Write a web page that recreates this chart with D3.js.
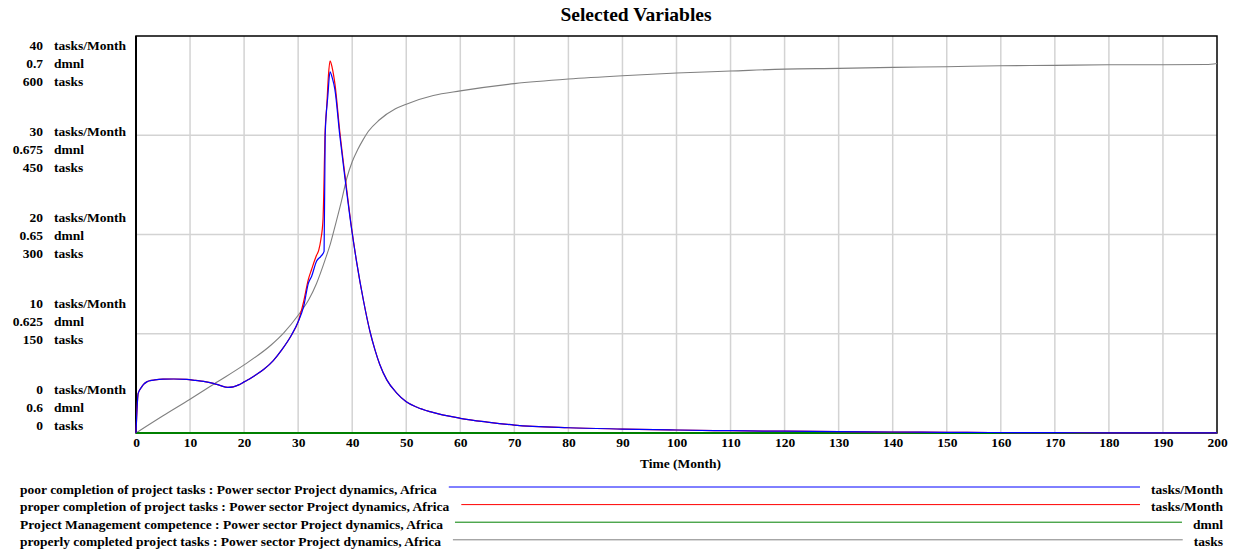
<!DOCTYPE html>
<html>
<head>
<meta charset="utf-8">
<script src="https://cdn.jsdelivr.net/npm/d3@7"></script>
<style>
  body { margin: 0; background: #fff; }
  svg text { font-family: "Liberation Serif", "Times New Roman", serif; font-weight: bold; fill: #000; }
</style>
</head>
<body>
<script>
// time axis ticks
var xTicks = d3.range(0, 201, 10);

// poor completion of project tasks (tasks/Month)
var tPoor = [0, 0.12, 0.4, 1, 1.4, 2, 2.6, 3.5, 5, 7, 9.4, 11, 12.5, 14.3, 15.5, 17, 18, 19, 20, 21, 22, 23.6, 25.4, 27, 28.8, 30, 31, 31.9, 32.5, 33.4, 34.2, 34.8, 35.0, 35.5, 35.9, 36.3, 36.8, 37.7, 38.7, 39.9, 40.8, 42.1, 43.3, 44.2, 45.1, 46.4, 48.2, 50, 52, 54.4, 60, 65, 70, 80, 90, 100, 110, 120, 130, 140, 150, 158, 170, 180, 190, 200];
var poor = [0, 1.6, 4.0, 4.6, 4.9, 5.15, 5.27, 5.35, 5.42, 5.44, 5.4, 5.3, 5.2, 5.0, 4.8, 4.6, 4.65, 4.85, 5.15, 5.45, 5.8, 6.4, 7.3, 8.4, 9.9, 11.2, 12.7, 15.1, 15.8, 17.3, 17.8, 18.3, 30, 34, 36.4, 35.8, 34.6, 30, 25.5, 20.5, 17.3, 13.3, 10.2, 8.4, 6.9, 5.35, 4.05, 3.15, 2.6, 2.15, 1.48, 1.1, 0.8, 0.53, 0.4, 0.3, 0.23, 0.18, 0.14, 0.1, 0.07, 0.05, 0.03, 0.02, 0.015, 0.01];

// proper completion of project tasks (tasks/Month)
var tProper = [0, 0.12, 0.4, 1, 1.4, 2, 2.6, 3.5, 5, 7, 9.4, 11, 12.5, 14.3, 15.5, 17, 18, 19, 20, 21, 22, 23.6, 25.4, 27, 28.8, 30, 31, 31.9, 32.5, 33.4, 33.8, 34.2, 34.6, 35.0, 35.3, 35.6, 35.9, 36.3, 36.8, 37.7, 38.7, 39.9, 40.8, 42.1, 43.3, 44.2, 45.1, 46.4, 48.2, 50, 52, 54.4, 60, 65, 70, 80, 90, 100, 110, 120, 130, 140, 150, 158, 170, 180, 190, 200];
var proper = [0, 1.6, 4.0, 4.6, 4.9, 5.15, 5.27, 5.35, 5.42, 5.44, 5.4, 5.3, 5.2, 5.0, 4.8, 4.6, 4.65, 4.85, 5.15, 5.45, 5.8, 6.4, 7.3, 8.4, 9.9, 11.2, 13.2, 15.5, 16.5, 17.9, 18.4, 19.5, 21.5, 30.5, 33.0, 36, 37.5, 36.8, 35.2, 30.4, 25.8, 20.6, 17.3, 13.3, 10.2, 8.4, 6.9, 5.35, 4.05, 3.15, 2.6, 2.15, 1.48, 1.1, 0.8, 0.53, 0.4, 0.3, 0.23, 0.18, 0.14, 0.1, 0.07, 0.05, 0.03, 0.02, 0.015, 0.01];

// Project Management competence (dmnl)
var tCompetence = [0, 200];
var competence = [0.6, 0.6];

// properly completed project tasks (tasks)
var tCompleted = [0, 5, 10, 15, 20, 25, 27.3, 30, 32, 33.4, 35, 36, 37, 38, 39, 40, 41, 42, 43, 45, 48, 50, 55, 60, 70, 80, 90, 100, 110, 120, 130, 140, 150, 160, 170, 180, 190, 198, 200];
var completed = [0, 26, 51, 77, 103, 133, 151, 178, 202, 226, 262, 287, 318, 350, 385, 410, 428, 443, 456, 473, 490, 497, 510, 517, 528, 535, 540, 544, 547, 550, 551, 552.6, 553.6, 555, 555.6, 556.5, 556.6, 557, 558.5];

// stacked y tick labels, one column per unit
var rateTicks = [0, 10, 20, 30, 40];
var dmnlTicks = ["0.6", "0.625", "0.65", "0.675", "0.7"];
var taskTicks = [0, 150, 300, 450, 600];

var legendNames = [
  "poor completion of project tasks : Power sector Project dynamics, Africa",
  "proper completion of project tasks : Power sector Project dynamics, Africa",
  "Project Management competence : Power sector Project dynamics, Africa",
  "properly completed project tasks : Power sector Project dynamics, Africa"
];
var legendUnits = ["tasks/Month", "tasks/Month", "dmnl", "tasks"];
var colors = ["#0000ff", "#ff0000", "#008000", "#808080"];

var svgWidth = 1242, svgHeight = 554;
var margin = {top: 36, left: 136, right: 25, bottom: 121};
var width = svgWidth - margin.left - margin.right;
var height = svgHeight - margin.top - margin.bottom;
var fontSize = "13.5px";

var svg = d3.select("body").append("svg")
  .attr("width", svgWidth)
  .attr("height", svgHeight);

// title
svg.append("text")
  .attr("x", 636).attr("y", 21)
  .attr("text-anchor", "middle")
  .style("font-size", "19.5px")
  .text("Selected Variables");

var chartGroup = svg.append("g")
  .attr("transform", `translate(${margin.left}, ${margin.top})`);

var x = d3.scaleLinear().domain([0, 200]).range([0, width]);
var yRate = d3.scaleLinear().domain([0, 40]).range([height, 0]);
var yDmnl = d3.scaleLinear().domain([0.6, 0.7]).range([height, 0]);
var yTasks = d3.scaleLinear().domain([0, 600]).range([height, 0]);

// grid
chartGroup.append("g")
  .selectAll("line.v")
  .data(xTicks.slice(1, -1))
  .enter().append("line")
  .attr("x1", d => x(d)).attr("x2", d => x(d))
  .attr("y1", 0).attr("y2", height)
  .attr("stroke", "#d3d3d3").attr("stroke-width", 1.5);

chartGroup.append("g")
  .selectAll("line.h")
  .data(rateTicks.slice(1, -1))
  .enter().append("line")
  .attr("x1", 0).attr("x2", width)
  .attr("y1", d => yRate(d)).attr("y2", d => yRate(d))
  .attr("stroke", "#d3d3d3").attr("stroke-width", 1.5);

// frame (series are drawn over it)
chartGroup.append("rect")
  .attr("x", 0).attr("y", 0)
  .attr("width", width).attr("height", height)
  .attr("fill", "none")
  .attr("stroke", "#000")
  .attr("stroke-width", 1.5);
chartGroup.append("line")
  .attr("x1", 0).attr("x2", 0).attr("y1", 0).attr("y2", height)
  .attr("stroke", "#000").attr("stroke-width", 2);

// x axis labels
var bottomAxis = d3.axisBottom(x).tickValues(xTicks).tickSize(0).tickPadding(4);
var xAxisG = chartGroup.append("g")
  .attr("transform", `translate(0, ${height})`)
  .call(bottomAxis);
xAxisG.select(".domain").remove();
xAxisG.selectAll("text")
  .style("font-size", fontSize)
  .style("font-family", "'Liberation Serif', serif")
  .style("font-weight", "bold")
  .attr("fill", "#000");

chartGroup.append("text")
  .attr("x", width / 2 + 4).attr("y", height + 35)
  .attr("text-anchor", "middle")
  .style("font-size", fontSize)
  .text("Time (Month)");

// y tick labels: three rows per tick, spread between the frame edges
var labelY = d3.scaleLinear().domain([0, 40]).range([height - 34.5, 18.5]);
var rowGap = 18;
var yLabels = svg.append("g").attr("transform", `translate(0, ${margin.top})`);
rateTicks.forEach(function(v, i) {
  var rows = [[v, "tasks/Month"], [dmnlTicks[i], "dmnl"], [taskTicks[i], "tasks"]];
  rows.forEach(function(r, j) {
    var yy = labelY(v) + j * rowGap - 5;
    yLabels.append("text")
      .attr("x", 43).attr("y", yy)
      .attr("text-anchor", "end")
      .style("font-size", fontSize)
      .text(r[0]);
    yLabels.append("text")
      .attr("x", 54).attr("y", yy)
      .style("font-size", fontSize)
      .text(r[1]);
  });
});

// series
function makeLine(ts, vs, yScale) {
  var pts = ts.map((t, i) => [t, vs[i]]);
  return d3.line()
    .x(d => x(d[0]))
    .y(d => yScale(d[1]))
    .curve(d3.curveMonotoneX)(pts);
}

var series = [
  {path: makeLine(tCompleted, completed, yTasks), color: colors[3], w: 1.1},
  {path: makeLine(tCompetence, competence, yDmnl), color: colors[2], w: 2},
  {path: makeLine(tProper, proper, yRate), color: colors[1], w: 1.2},
  {path: makeLine(tPoor, poor, yRate), color: colors[0], w: 1.2}
];

chartGroup.selectAll("path.series")
  .data(series)
  .enter().append("path")
  .attr("class", "series")
  .attr("d", d => d.path)
  .attr("fill", "none")
  .attr("stroke", d => d.color)
  .attr("stroke-width", d => d.w);

// legend
var legend = svg.append("g");
legendNames.forEach(function(name, i) {
  var yy = 493.5 + i * 17.6;
  var label = legend.append("text")
    .attr("x", 20).attr("y", yy)
    .style("font-size", fontSize)
    .text(name);
  var unit = legend.append("text")
    .attr("x", 1223).attr("y", yy)
    .attr("text-anchor", "end")
    .style("font-size", fontSize)
    .text(legendUnits[i]);
  var x1 = 20 + label.node().getComputedTextLength() + 12;
  var x2 = 1223 - unit.node().getComputedTextLength() - 11;
  legend.append("line")
    .attr("x1", x1).attr("x2", x2)
    .attr("y1", yy - 6.5).attr("y2", yy - 6.5)
    .attr("stroke", colors[i]).attr("stroke-width", 1);
});
</script>
</body>
</html>
